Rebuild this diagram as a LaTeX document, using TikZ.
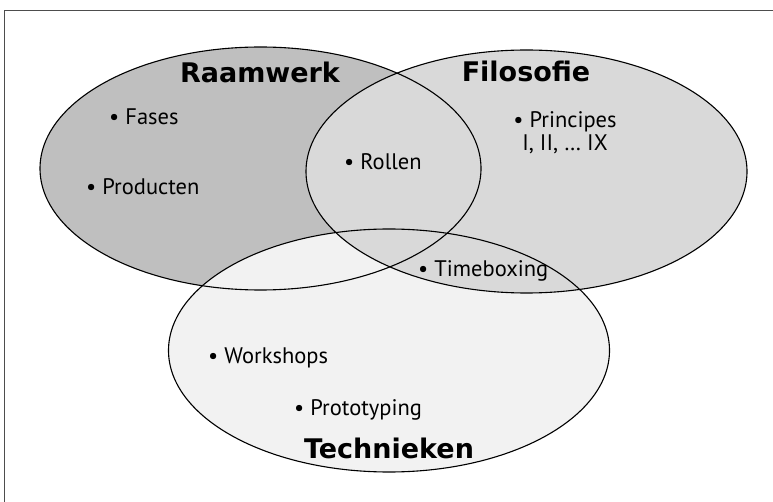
\documentclass[tikz,border=0pt]{standalone}
\usepackage{fontspec}
\setmainfont{PT Sans}
\newfontfamily\titlefont{DejaVu Sans}
\usepackage{xcolor}
\usepackage{tikz}
\usetikzlibrary{shapes.geometric}
\definecolor{framegray}{HTML}{4D4D4D}
\definecolor{darkfill}{HTML}{BFBFBF}
\definecolor{midfill}{HTML}{D9D9D9}
\definecolor{palefill}{HTML}{F2F2F2}
\tikzset{
  frame/.style={draw=framegray,line width=1.5pt},
  setshape/.style={ellipse,minimum width=441pt,minimum height=243pt,inner sep=0pt},
  rim/.style={draw=black,line width=1.1pt},
  settitle/.style={font=\titlefont\bfseries\fontsize{27}{30}\selectfont,anchor=base,inner sep=0pt},
  item/.style={font=\fontsize{22.5}{23}\selectfont,anchor=base west,inner sep=0pt},
}

\begin{document}
\begin{tikzpicture}[x=1pt,y=-1pt]
  \useasboundingbox (0,0) rectangle (773,502);
  \draw[frame] (4.5,502) |- (773,10.5);
  \node[setshape,fill=darkfill] (raamwerk) at (260.5,168.5) {};
  \node[setshape,fill=palefill] (technieken) at (389,350.5) {};
  \node[setshape,fill=midfill] (filosofie) at (526.5,171.5) {};
  \foreach \s in {raamwerk,technieken,filosofie}
    \draw[rim] (\s.center) ellipse [x radius=220.5, y radius=121.5];
  \node[settitle] (raamwerktitle) at (260,83) {Raamwerk};
  \node[settitle] (filosofietitle) at (526,82) {Filosofie};
  \node[settitle] (techniekentitle) at (389,458) {Technieken};
  \node[item] (fases) at (109,125) {\textbullet\ Fases};
  \node[item] (producten) at (86,195) {\textbullet\ Producten};
  \node[item] (rollen) at (344,170) {\textbullet\ Rollen};
  \node[item,anchor=north,align=center] (principes) at (565,111) {\textbullet\ Principes\\I, II, \dots\ IX};
  \node[item] (timeboxing) at (418,277) {\textbullet\ Timeboxing};
  \node[item] (workshops) at (208,363) {\textbullet\ Workshops};
  \node[item] (prototyping) at (294,415) {\textbullet\ Prototyping};
\end{tikzpicture}
\end{document}
